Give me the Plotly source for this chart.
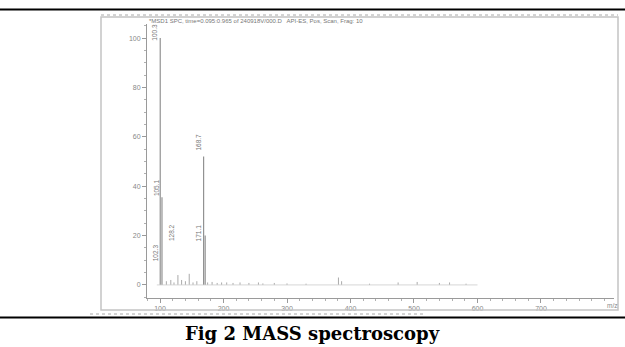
import plotly.graph_objects as go

W, H = 625, 347

# ---- data ----
peak_mz = [100.3, 103.1, 168.7, 171.1]
peak_intensity = [100, 35.5, 52, 20]

noise_mz = [110, 117, 122, 128.2, 134, 140, 146, 152, 158, 175, 182, 190, 197, 205, 215,
            226, 240, 255, 262, 280, 300, 330, 381, 386, 430, 475, 505, 540, 556, 582]
noise_intensity = [1.5, 2, 1, 4, 2, 1.5, 4.5, 1, 1.5, 1, 1.2, 0.8, 1, 1, 0.8,
                   1, 0.8, 1, 0.6, 0.8, 0.6, 0.5, 3, 1.5, 0.5, 1, 1.2, 0.8, 1, 0.5]

label_text = ["100.3", "105.1", "102.3", "128.2", "168.7", "171.1"]
label_mz = [92.1, 94.8, 92.0, 118.4, 160.0, 160.0]
label_y = [102.2, 39.5, 13.2, 21.3, 57.7, 20.9]

x_ticks = [100, 200, 300, 400, 500, 600, 700]
y_ticks = [0, 20, 40, 60, 80, 100]

title_text = "*MSD1 SPC, time=0.095:0.965 of 240918V/000.D   API-ES, Pos, Scan, Frag: 10"
caption = "Fig 2 MASS spectroscopy"


def px_x(x):
    return x / W


def px_y(y):
    return 1 - y / H


def stems(xs, ys):
    sx, sy = [], []
    for x, y in zip(xs, ys):
        sx += [x, x, None]
        sy += [0, y, None]
    return sx, sy


fig = go.Figure()
nx, ny = stems(noise_mz, noise_intensity)
fig.add_trace(go.Scatter(x=nx, y=ny, mode="lines", line=dict(color="#aaaaaa", width=1),
                         hoverinfo="skip", showlegend=False))
px_, py_ = stems(peak_mz, peak_intensity)
fig.add_trace(go.Scatter(x=px_, y=py_, mode="lines", line=dict(color="#888888", width=1.1),
                         hoverinfo="skip", showlegend=False))
# baseline
fig.add_trace(go.Scatter(x=[95, 600], y=[0, 0], mode="lines", line=dict(color="#cccccc", width=0.8),
                         hoverinfo="skip", showlegend=False))

for t, x, y in zip(label_text, label_mz, label_y):
    fig.add_annotation(x=x, y=y, xref="x", yref="y", text=t, showarrow=False, textangle=-90,
                       font=dict(size=6.5, color="#777777", family="Liberation Sans, Arial"))

fig.update_xaxes(range=[79.5, 815], domain=[px_x(147), px_x(614)], tickvals=x_ticks,
                 showline=True, linecolor="#9a9a9a", linewidth=1, ticks="outside",
                 ticklen=4, tickcolor="#9a9a9a", showgrid=False, zeroline=False,
                 minor=dict(ticks="outside", dtick=20, ticklen=2, tickcolor="#b0b0b0"),
                 tickfont=dict(size=7, color="#888888", family="Liberation Sans, Arial"))
fig.update_yaxes(range=[-5.3, 105.7], domain=[px_y(298), px_y(24)], tickvals=y_ticks,
                 showline=True, linecolor="#9a9a9a", linewidth=1, ticks="outside",
                 ticklen=4, tickcolor="#9a9a9a", showgrid=False, zeroline=False,
                 minor=dict(ticks="outside", dtick=5, ticklen=2, tickcolor="#b0b0b0"),
                 tickfont=dict(size=7, color="#888888", family="Liberation Sans, Arial"))

shapes = [
    dict(type="line", xref="paper", yref="paper", x0=0, x1=1, y0=px_y(9.5), y1=px_y(9.5),
         line=dict(color="black", width=2)),
    dict(type="line", xref="paper", yref="paper", x0=0, x1=1, y0=px_y(317.5), y1=px_y(317.5),
         line=dict(color="black", width=2)),
    dict(type="rect", xref="paper", yref="paper", x0=px_x(101), x1=px_x(618),
         y0=px_y(310), y1=px_y(17), line=dict(color="#c4c4c4", width=1.5)),
    dict(type="line", xref="paper", yref="paper", x0=px_x(101), x1=px_x(618), y0=px_y(15), y1=px_y(15),
         line=dict(color="#a8a8a8", width=1, dash="dot")),
    dict(type="line", xref="paper", yref="paper", x0=px_x(90), x1=px_x(425), y0=px_y(314), y1=px_y(314),
         line=dict(color="#a8a8a8", width=1, dash="dot")),
]

fig.add_annotation(xref="paper", yref="paper", x=px_x(147), y=px_y(20.5), xanchor="left",
                   yanchor="middle", text=title_text, showarrow=False,
                   font=dict(size=6, color="#777777", family="Liberation Sans, Arial"))
fig.add_annotation(xref="paper", yref="paper", x=px_x(612), y=px_y(305), xanchor="center",
                   yanchor="middle", text="m/z", showarrow=False,
                   font=dict(size=6.5, color="#888888", family="Liberation Sans, Arial"))
fig.add_annotation(xref="paper", yref="paper", x=px_x(312), y=px_y(333), xanchor="center",
                   yanchor="middle", text="<b>" + caption + "</b>", showarrow=False,
                   font=dict(size=18, color="black", family="DejaVu Serif"))

fig.update_layout(width=W, height=H, margin=dict(l=0, r=0, t=0, b=0),
                  paper_bgcolor="white", plot_bgcolor="white", shapes=shapes,
                  showlegend=False)

fig.write_html("out.html", config={"displayModeBar": False},
               post_script="document.body.style.margin='0';document.body.style.overflow='hidden';")
